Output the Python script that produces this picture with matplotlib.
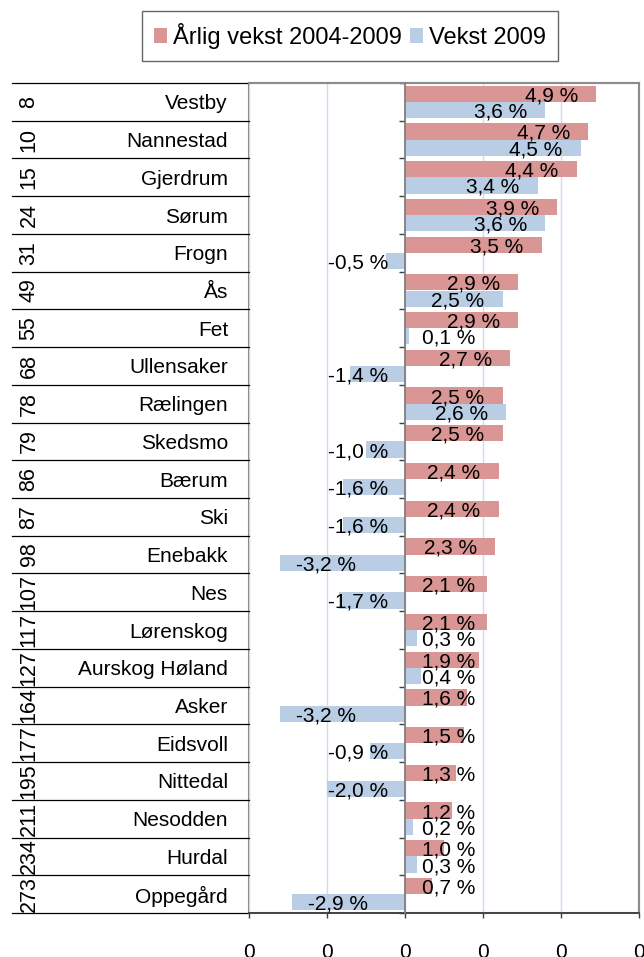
import numpy as np
import matplotlib.pyplot as plt
from matplotlib.patches import Patch, Rectangle
from matplotlib.ticker import FuncFormatter

plt.rcParams['font.family'] = ['Liberation Sans', 'DejaVu Sans']

# rank, municipality, growth in percent
ranks = [8, 10, 15, 24, 31, 49, 55, 68, 78, 79, 86,
         87, 98, 107, 117, 127, 164, 177, 195, 211, 234, 273]
names = ['Vestby', 'Nannestad', 'Gjerdrum', 'Sørum', 'Frogn', 'Ås', 'Fet',
         'Ullensaker', 'Rælingen', 'Skedsmo', 'Bærum', 'Ski', 'Enebakk',
         'Nes', 'Lørenskog', 'Aurskog Høland', 'Asker', 'Eidsvoll',
         'Nittedal', 'Nesodden', 'Hurdal', 'Oppegård']
arlig = [4.9, 4.7, 4.4, 3.9, 3.5, 2.9, 2.9, 2.7, 2.5, 2.5, 2.4,
         2.4, 2.3, 2.1, 2.1, 1.9, 1.6, 1.5, 1.3, 1.2, 1.0, 0.7]
vekst = [3.6, 4.5, 3.4, 3.6, -0.5, 2.5, 0.1, -1.4, 2.6, -1.0, -1.6,
         -1.6, -3.2, -1.7, 0.3, 0.4, -3.2, -0.9, -2.0, 0.2, 0.3, -2.9]
legend_labels = ['Årlig vekst 2004-2009', 'Vekst 2009']

red = '#D99694'
blue = '#B9CDE5'
W, H = 644, 957

fig = plt.figure(figsize=(W / 100, H / 100), dpi=100)
ax = fig.add_axes([249 / W, (H - 913) / H, 390 / W, 830 / H])

n = len(names)
y = np.arange(n)
bh = 0.43
ax.barh(y - 0.215, np.array(arlig) / 100, height=bh, color=red, zorder=2)
ax.barh(y + 0.215, np.array(vekst) / 100, height=bh, color=blue, zorder=2)

ax.set_xlim(-0.04, 0.06)
ax.set_ylim(n - 0.5, -0.5)
ax.set_xticks([-0.04, -0.02, 0, 0.02, 0.04, 0.06])
# excel number format "0" -> every tick reads 0
ax.xaxis.set_major_formatter(FuncFormatter(lambda v, p: '%d' % round(v)))
ax.grid(axis='x', color='#D6D6F6', lw=1)
ax.set_axisbelow(True)

# category axis sits at zero
ax.spines['left'].set_position(('data', 0))
ax.spines['left'].set_color('#7F7F7F')
ax.spines['left'].set_linewidth(1.3)
ax.spines['left'].set_zorder(3)
ax.set_yticks(np.arange(n + 1) - 0.5)
ax.set_yticklabels([])
ax.tick_params(axis='y', direction='out', length=4, color='#404040', width=1)
for s in ['top', 'right']:
    ax.spines[s].set_color('#8C8C8C')
    ax.spines[s].set_linewidth(1.5)
ax.spines['bottom'].set_color('#404040')
ax.spines['bottom'].set_linewidth(1.3)
ax.add_patch(Rectangle((0, 0), 1, 1, transform=ax.transAxes, fill=False,
                       ec='#8C8C8C', lw=1.5, clip_on=False, zorder=0.5))
ax.tick_params(axis='x', direction='out', length=3.6, width=1, color='#404040',
               pad=18, labelsize=15)


def put_label(v, yc):
    txt = ('%.1f %%' % v).replace('.', ',')
    x = v / 100
    kw = dict(textcoords='offset points', va='center_baseline', fontsize=15,
              color='black', zorder=4)
    if v >= 0:
        if v > 2.15:
            ax.annotate(txt, (x, yc), xytext=(-13, 0), ha='right', **kw)
        else:
            ax.annotate(txt, (0, yc), xytext=(12, 0), ha='left', **kw)
    else:
        if v < -2.5:
            ax.annotate(txt, (x, yc), xytext=(11.5, 0), ha='left', **kw)
        else:
            ax.annotate(txt, (0, yc), xytext=(-12, 0), ha='right', **kw)


for i in range(n):
    put_label(arlig[i], i - 0.215)
    put_label(vekst[i], i + 0.215)

# two-level category labels on the left
tr = ax.get_yaxis_transform()


def ax_x(px):
    return (px - 249) / 390


for i in range(n):
    ax.text(ax_x(228), i, names[i], transform=tr, ha='right',
            va='center_baseline', fontsize=15)
    ax.text(ax_x(29), i, str(ranks[i]), transform=tr, ha='center',
            va='center', rotation=90, fontsize=15.5)
for b in np.arange(n + 1) - 0.5:
    ax.plot([ax_x(12), 0], [b, b], transform=tr, color='black', lw=0.9,
            clip_on=False)

handles = [Patch(facecolor=red), Patch(facecolor=blue)]
leg = fig.legend(handles, legend_labels, loc='upper center',
                 bbox_to_anchor=(350 / W, 1 - 11 / H), ncol=2, fontsize=17,
                 frameon=True, fancybox=False, edgecolor='#404040',
                 handlelength=0.55, handleheight=0.55, handletextpad=0.25,
                 columnspacing=0.35, borderpad=0.5, borderaxespad=0)
leg.get_frame().set_linewidth(1.0)

fig.savefig('out.png', dpi=100)
